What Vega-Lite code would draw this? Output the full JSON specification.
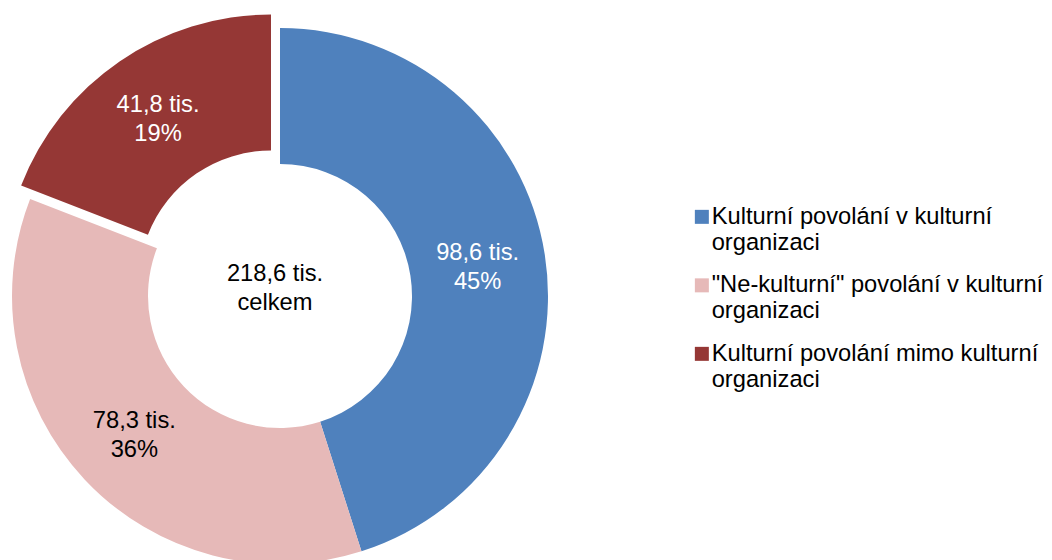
{
  "$schema": "https://vega.github.io/schema/vega-lite/v6.json",
  "width": 560,
  "height": 528,
  "autosize": {"type": "none"},
  "padding": {"left": 0, "top": 32, "right": 492, "bottom": 0},
  "background": "white",
  "config": {"view": {"stroke": null}, "font": "Liberation Sans"},
  "datasets": {
    "segmenty": [
      {"kategorie": "Kulturní povolání v kulturní organizaci", "pocet": 98.6, "popisek": "98,6 tis.\n45%", "poradi": 1},
      {"kategorie": "\"Ne-kulturní\" povolání v kulturní organizaci", "pocet": 78.3, "popisek": "78,3 tis.\n36%", "poradi": 2},
      {"kategorie": "Kulturní povolání mimo kulturní organizaci", "pocet": 41.8, "popisek": "41,8 tis.\n19%", "poradi": 3}
    ],
    "stred": [{"popisek": "218,6 tis.\ncelkem"}]
  },
  "layer": [
    {
      "data": {"name": "segmenty"},
      "mark": {"type": "arc", "outerRadius": 268, "innerRadius": 132},
      "encoding": {
        "theta": {"field": "pocet", "type": "quantitative", "stack": true},
        "order": {"field": "poradi", "type": "quantitative"},
        "color": {
          "field": "kategorie",
          "type": "nominal",
          "scale": {
            "domain": ["Kulturní povolání v kulturní organizaci", "\"Ne-kulturní\" povolání v kulturní organizaci", "Kulturní povolání mimo kulturní organizaci"],
            "range": ["#4F81BD", "#E6B9B8", "#953735"]
          },
          "legend": {
            "title": null,
            "orient": "none",
            "legendX": 690,
            "legendY": 173,
            "labelFont": "Liberation Sans",
            "labelFontSize": 23.7,
            "labelColor": "black",
            "labelLimit": 600,
            "labelExpr": "[slice(datum.label, 0, -11), 'organizaci']",
            "symbolType": "square",
            "symbolSize": 196,
            "symbolStrokeWidth": 0,
            "symbolOpacity": 1,
            "labelOffset": -2,
            "rowPadding": 17.5
          }
        },
        "opacity": {"condition": {"test": "datum.poradi === 3", "value": 0}, "value": 1}
      }
    },
    {
      "data": {"name": "segmenty"},
      "mark": {"type": "arc", "outerRadius": 268, "innerRadius": 132, "xOffset": -9, "yOffset": -13.5},
      "encoding": {
        "theta": {"field": "pocet", "type": "quantitative", "stack": true},
        "order": {"field": "poradi", "type": "quantitative"},
        "color": {"field": "kategorie", "type": "nominal"},
        "opacity": {"condition": {"test": "datum.poradi === 3", "value": 1}, "value": 0}
      }
    },
    {
      "data": {"name": "segmenty"},
      "mark": {"type": "text", "radius": 200, "fontSize": 23.7, "lineHeight": 29, "lineBreak": "\n", "font": "Liberation Sans", "dy": -12},
      "encoding": {
        "theta": {"field": "pocet", "type": "quantitative", "stack": true},
        "order": {"field": "poradi", "type": "quantitative"},
        "text": {"field": "popisek", "type": "nominal"},
        "color": {"condition": {"test": "datum.poradi === 2", "value": "black"}, "value": "white"},
        "opacity": {"condition": {"test": "datum.poradi === 3", "value": 0}, "value": 1}
      }
    },
    {
      "data": {"name": "segmenty"},
      "mark": {"type": "text", "radius": 200, "fontSize": 23.7, "lineHeight": 29, "lineBreak": "\n", "font": "Liberation Sans", "xOffset": -9, "yOffset": -13.5, "dy": -12},
      "encoding": {
        "theta": {"field": "pocet", "type": "quantitative", "stack": true},
        "order": {"field": "poradi", "type": "quantitative"},
        "text": {"field": "popisek", "type": "nominal"},
        "color": {"value": "white"},
        "opacity": {"condition": {"test": "datum.poradi === 3", "value": 1}, "value": 0}
      }
    },
    {
      "data": {"name": "stred"},
      "mark": {"type": "text", "fontSize": 23.7, "lineHeight": 29, "lineBreak": "\n", "font": "Liberation Sans", "color": "black", "dx": -5, "dy": -22},
      "encoding": {
        "text": {"field": "popisek", "type": "nominal"}
      }
    }
  ]
}
